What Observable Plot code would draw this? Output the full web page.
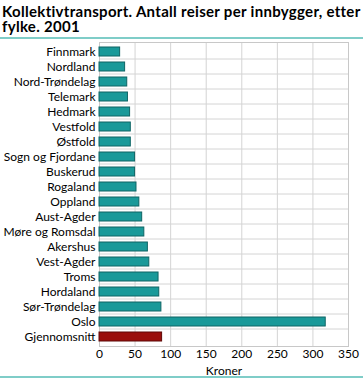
<!DOCTYPE html>
<html><head><meta charset="utf-8">
<script src="https://cdn.jsdelivr.net/npm/d3@7"></script>
<script src="https://cdn.jsdelivr.net/npm/@observablehq/plot@0.6"></script>
<style>
body{margin:0;background:#fff;font-family:Lato,sans-serif;}
#wrap{width:363px;position:relative;}
#title{font-weight:bold;font-size:15px;line-height:14.5px;letter-spacing:0.3px;color:#000;padding:4px 0 0 2px;height:37px;width:363px;box-sizing:border-box;}
.rule{height:2px;background:#7fcdc8;width:363px;}
#chart svg{display:block;}
</style></head><body>
<div id="wrap">
<div id="title">Kollektivtransport. Antall reiser per innbygger, etter fylke. 2001</div>
<div class="rule"></div>
<div id="chart"></div>
<div class="rule"></div>
</div>
<script>
const fylker = ["Finnmark","Nordland","Nord-Trøndelag","Telemark","Hedmark","Vestfold","Østfold","Sogn og Fjordane","Buskerud","Rogaland","Oppland","Aust-Agder","Møre og Romsdal","Akershus","Vest-Agder","Troms","Hordaland","Sør-Trøndelag","Oslo","Gjennomsnitt"];
const reiser = [29,36,39,40,43,44,44,50,50,52,56,60,63,68,70,83,84,87,318,88];
const xTicks = [0,50,100,150,200,250,300,350];
const data = fylker.map((f,i)=>({fylke:f, verdi:reiser[i], snitt:f==="Gjennomsnitt"}));
const chart = Plot.plot({
  width:363, height:337,
  marginLeft:99, marginRight:15, marginTop:3, marginBottom:30,
  style:{fontFamily:"Lato,sans-serif", fontSize:"12px", color:"#000"},
  x:{domain:[0,350], ticks:xTicks, label:"Kroner", labelAnchor:"center", labelArrow:"none"},
  y:{domain:fylker, paddingInner:0.38, paddingOuter:0.19, label:null},
  marks:[
    Plot.gridX(xTicks,{stroke:"#d4d4d4", strokeOpacity:1}),
    Plot.tickY(fylker.slice(1),{y:d=>d, stroke:"#d4d4d4", dy:-8}),
    Plot.frame({stroke:"#c8c8c8"}),
    Plot.barX(data,{y:"fylke", x:"verdi", fill:d=>d.snitt?"#9a0f0c":"#1a9999", stroke:d=>d.snitt?"#5e0806":"#0f6565", strokeWidth:1}),
    Plot.axisX({ticks:xTicks, tickSize:0, tickPadding:3, fontSize:12, label:"Kroner", labelAnchor:"center", labelArrow:"none", labelOffset:28}),
    Plot.axisY({tickSize:0, tickPadding:4, fontSize:12})
  ]
});
document.getElementById("chart").appendChild(chart);
</script>
</body></html>
